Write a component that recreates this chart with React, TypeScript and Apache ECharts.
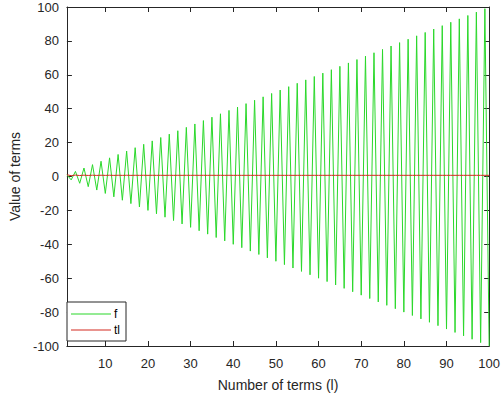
import React, { useEffect, useRef } from "react";
import * as echarts from "echarts";

const terms = [
  1, 2, 3, 4, 5, 6, 7, 8, 9, 10, 11, 12, 13, 14, 15, 16, 17, 18, 19, 20,
  21, 22, 23, 24, 25, 26, 27, 28, 29, 30, 31, 32, 33, 34, 35, 36, 37, 38, 39, 40,
  41, 42, 43, 44, 45, 46, 47, 48, 49, 50, 51, 52, 53, 54, 55, 56, 57, 58, 59, 60,
  61, 62, 63, 64, 65, 66, 67, 68, 69, 70, 71, 72, 73, 74, 75, 76, 77, 78, 79, 80,
  81, 82, 83, 84, 85, 86, 87, 88, 89, 90, 91, 92, 93, 94, 95, 96, 97, 98, 99, 100,
];

const fValues = [
  1, -2, 3, -4, 5, -6, 7, -8, 9, -10, 11, -12, 13, -14, 15, -16, 17, -18, 19, -20,
  21, -22, 23, -24, 25, -26, 27, -28, 29, -30, 31, -32, 33, -34, 35, -36, 37, -38, 39, -40,
  41, -42, 43, -44, 45, -46, 47, -48, 49, -50, 51, -52, 53, -54, 55, -56, 57, -58, 59, -60,
  61, -62, 63, -64, 65, -66, 67, -68, 69, -70, 71, -72, 73, -74, 75, -76, 77, -78, 79, -80,
  81, -82, 83, -84, 85, -86, 87, -88, 89, -90, 91, -92, 93, -94, 95, -96, 97, -98, 99, -100,
];

const tlValues = [
  1.0, 0.5, 0.83, 0.58, 0.78, 0.62, 0.76, 0.63, 0.75, 0.65, 0.74, 0.65, 0.73, 0.66, 0.73, 0.66, 0.72, 0.67, 0.72, 0.67,
  0.72, 0.67, 0.71, 0.67, 0.71, 0.67, 0.71, 0.68, 0.71, 0.68, 0.71, 0.68, 0.71, 0.68, 0.71, 0.68, 0.71, 0.68, 0.71, 0.68,
  0.70, 0.68, 0.70, 0.68, 0.70, 0.68, 0.70, 0.68, 0.70, 0.68, 0.70, 0.68, 0.70, 0.68, 0.70, 0.68, 0.70, 0.68, 0.70, 0.68,
  0.70, 0.69, 0.70, 0.69, 0.70, 0.69, 0.70, 0.69, 0.70, 0.69, 0.70, 0.69, 0.70, 0.69, 0.70, 0.69, 0.70, 0.69, 0.70, 0.69,
  0.70, 0.69, 0.70, 0.69, 0.70, 0.69, 0.70, 0.69, 0.70, 0.69, 0.70, 0.69, 0.70, 0.69, 0.70, 0.69, 0.70, 0.69, 0.70, 0.69,
];

const xTicks = [10, 20, 30, 40, 50, 60, 70, 80, 90, 100];

const FONT = "'Liberation Sans', Arial, Helvetica, sans-serif";
const AXIS_COLOR = "#262626";

export default function App() {
  const ref = useRef<HTMLDivElement>(null);
  useEffect(() => {
    if (!ref.current) return;
    const chart = echarts.init(ref.current, undefined, { renderer: "svg" });
    const axisCommon = {
      axisLine: { show: true, onZero: false, lineStyle: { color: AXIS_COLOR, width: 1 } },
      splitLine: { show: false },
    };
    chart.setOption({
      animation: false,
      backgroundColor: "#ffffff",
      textStyle: { fontFamily: FONT },
      grid: { left: 53, right: 12, top: 7, bottom: 45, containLabel: false },
      legend: {
        orient: "vertical",
        left: 67,
        top: 302,
        backgroundColor: "#ffffff",
        borderColor: AXIS_COLOR,
        borderWidth: 1,
        borderRadius: 0,
        padding: [6, 6, 5, 4],
        itemWidth: 40,
        itemHeight: 12,
        itemGap: 4,
        textStyle: { fontSize: 12, color: "#000", fontFamily: FONT, padding: [0, 0, 0, -2] },
        data: [
          { name: "f", icon: "path://M0,6 L40,6 L40,7 L0,7 Z" },
          { name: "tl", icon: "path://M0,6 L40,6 L40,7 L0,7 Z" },
        ],
      },
      xAxis: [
        {
          type: "value",
          position: "bottom",
          min: 1,
          max: 100,
          ...axisCommon,
          axisTick: { show: true, inside: true, length: 5, customValues: xTicks, lineStyle: { color: AXIS_COLOR } },
          axisLabel: { show: true, customValues: xTicks, fontSize: 13, color: AXIS_COLOR, margin: 11, fontFamily: FONT },
          name: "Number of terms (l)",
          nameLocation: "middle",
          nameGap: 32,
          nameTextStyle: { fontSize: 14, color: AXIS_COLOR, fontFamily: FONT },
        },
        {
          type: "value",
          position: "top",
          min: 1,
          max: 100,
          ...axisCommon,
          axisTick: { show: true, inside: true, length: 5, customValues: xTicks, lineStyle: { color: AXIS_COLOR } },
          axisLabel: { show: false },
        },
      ],
      yAxis: [
        {
          type: "value",
          position: "left",
          min: -100,
          max: 100,
          interval: 20,
          ...axisCommon,
          axisTick: { show: true, inside: true, length: 5, lineStyle: { color: AXIS_COLOR } },
          axisLabel: { show: true, fontSize: 13, color: AXIS_COLOR, margin: 8, fontFamily: FONT },
          name: "Value of terms",
          nameLocation: "middle",
          nameGap: 41,
          nameTextStyle: { fontSize: 14, color: AXIS_COLOR, fontFamily: FONT },
        },
        {
          type: "value",
          position: "right",
          min: -100,
          max: 100,
          interval: 20,
          ...axisCommon,
          axisTick: { show: true, inside: true, length: 5, lineStyle: { color: AXIS_COLOR } },
          axisLabel: { show: false },
        },
      ],
      series: [
        {
          name: "f",
          type: "line",
          xAxisIndex: 0,
          yAxisIndex: 0,
          symbol: "none",
          data: terms.map((t, i) => [t, fValues[i]]),
          lineStyle: { color: "#2bd82b", width: 1 },
          itemStyle: { color: "#2bd82b" },
        },
        {
          name: "tl",
          type: "line",
          xAxisIndex: 0,
          yAxisIndex: 0,
          symbol: "none",
          data: terms.map((t, i) => [t, tlValues[i]]),
          lineStyle: { color: "#d42a20", width: 1 },
          itemStyle: { color: "#d42a20" },
        },
      ],
    });
    return () => chart.dispose();
  }, []);
  return <div ref={ref} style={{ width: 503, height: 397, position: "absolute", left: 0, top: 0 }} />;
}
